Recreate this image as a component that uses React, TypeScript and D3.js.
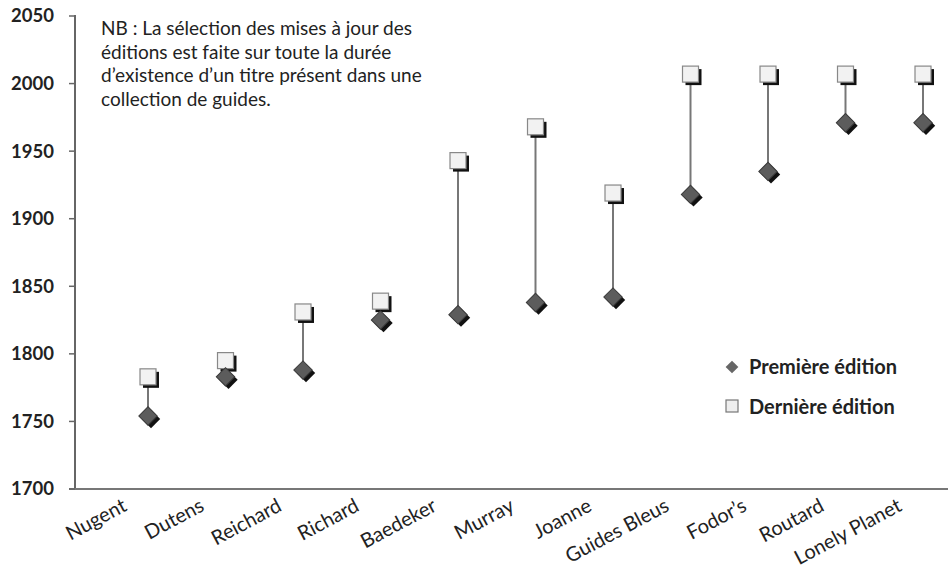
import React from "react";
import * as d3 from "d3";

const categories = ["Nugent", "Dutens", "Reichard", "Richard", "Baedeker", "Murray", "Joanne", "Guides Bleus", "Fodor’s", "Routard", "Lonely Planet"];
const premiere = [1754, 1783, 1788, 1825, 1829, 1838, 1842, 1918, 1935, 1971, 1971];
const derniere = [1783, 1795, 1831, 1839, 1943, 1968, 1919, 2007, 2007, 2007, 2007];
const yTicks = [1700, 1750, 1800, 1850, 1900, 1950, 2000, 2050];
const noteLines = [
  "NB : La sélection des mises à jour des",
  "éditions est faite sur toute la durée",
  "d’existence d’un titre présent dans une",
  "collection de guides.",
];
const legendLabels = ["Première édition", "Dernière édition"];

const W = 948, H = 571;
const axisX = 75, axisBottom = 489, axisTop = 16;

export default function App() {
  const x = d3.scalePoint<string>().domain(categories).range([148, 923]);
  const y = d3.scaleLinear().domain([1700, 2050]).range([axisBottom, axisTop]);
  const font = "Lato, 'Open Sans', sans-serif";
  const sq = 16, sh = 3, dia = 13;

  return (
    <svg width={W} height={H} style={{ position: "absolute", left: 0, top: 0, background: "#fff" }} fontFamily={font}>
      <line x1={axisX} x2={axisX} y1={axisTop - 1} y2={axisBottom} stroke="#666" strokeWidth={2} />
      <line x1={69} x2={W} y1={axisBottom} y2={axisBottom} stroke="#777" strokeWidth={2} />
      {yTicks.map((t) => (
        <g key={t}>
          <line x1={69} x2={axisX} y1={y(t)} y2={y(t)} stroke="#666" strokeWidth={1.5} />
          <text x={54} y={y(t)} dy="0.35em" textAnchor="end" fontSize={18.5} fontWeight={700} fill="#222">{t}</text>
        </g>
      ))}
      {noteLines.map((l, i) => (
        <text key={i} x={101} y={35 + i * 23.5} fontSize={19} fill="#222">{l}</text>
      ))}
      {categories.map((c) => (
        <text key={c} transform={`translate(${x(c)! - 20},${510}) rotate(-28)`} textAnchor="end" fontSize={20} fill="#222">{c}</text>
      ))}
      {categories.map((c, i) => (
        <line key={c} x1={x(c)} x2={x(c)} y1={y(derniere[i])} y2={y(premiere[i])} stroke="#777" strokeWidth={2} />
      ))}
      {categories.map((c, i) => {
        const cx = x(c)!, cy = y(derniere[i]);
        return (
          <g key={c}>
            <rect x={cx - sq / 2 + sh} y={cy - sq / 2 + sh} width={sq} height={sq} fill="#111" />
            <rect x={cx - sq / 2} y={cy - sq / 2} width={sq} height={sq} fill="#f2f2f2" stroke="#888" strokeWidth={1.2} />
          </g>
        );
      })}
      {categories.map((c, i) => {
        const cx = x(c)!, cy = y(premiere[i]);
        return (
          <g key={c}>
            <rect x={-dia / 2} y={-dia / 2} width={dia} height={dia} fill="#111" transform={`translate(${cx + 3},${cy + 3}) rotate(45)`} />
            <rect x={-dia / 2} y={-dia / 2} width={dia} height={dia} fill="#5c5c5c" stroke="#3a3a3a" strokeWidth={1} transform={`translate(${cx},${cy}) rotate(45)`} />
          </g>
        );
      })}
      <rect x={-4.5} y={-4.5} width={9} height={9} fill="#666" transform={`translate(732,367) rotate(45)`} />
      <text x={749} y={374} fontSize={20} fontWeight={700} fill="#222">{legendLabels[0]}</text>
      <rect x={726} y={400} width={12} height={12} fill="#eee" stroke="#777" strokeWidth={1.2} />
      <text x={749} y={414} fontSize={20} fontWeight={700} fill="#222">{legendLabels[1]}</text>
    </svg>
  );
}
